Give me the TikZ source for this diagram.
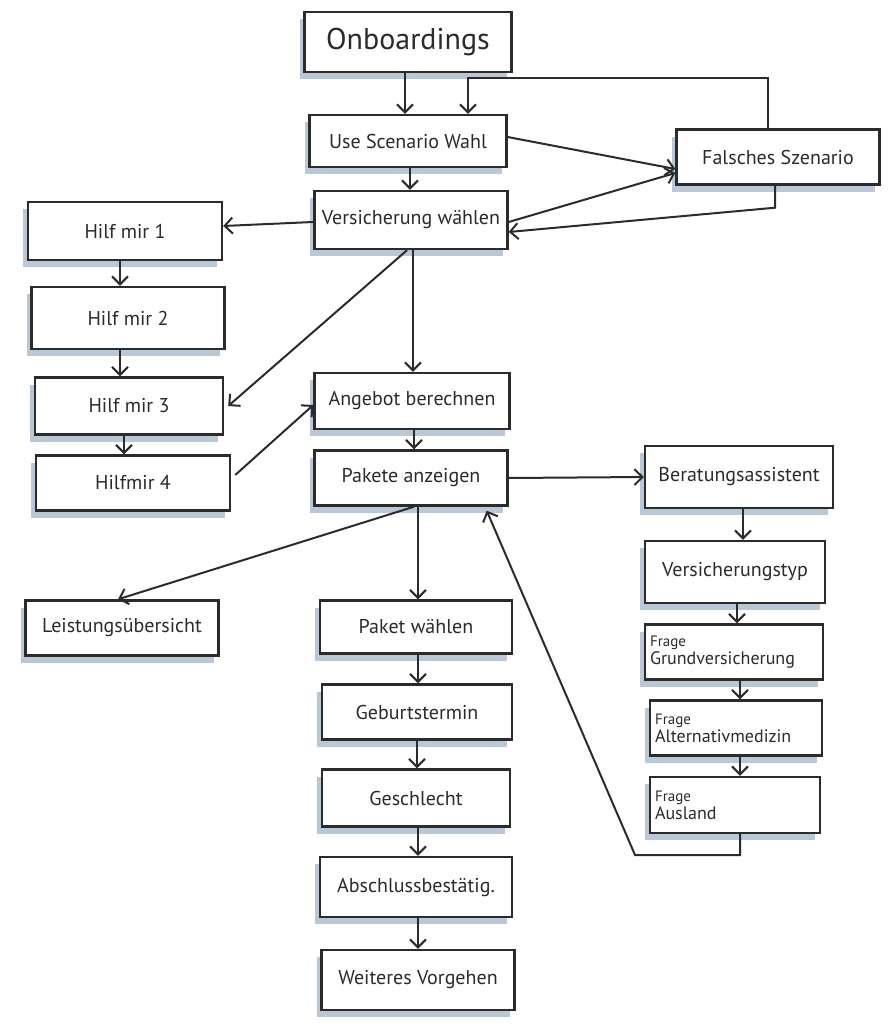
\documentclass[tikz,border=0pt]{standalone}
\usepackage{fontspec}
\setmainfont{PT Sans}
\usetikzlibrary{arrows.meta,calc,shadows}
\definecolor{ink}{HTML}{2B2B2B}
\definecolor{shade}{HTML}{B9C7D6}
\newcommand{\qlabel}[1]{{\fontsize{15}{15}\selectfont #1}}
\begin{document}
\begin{tikzpicture}[x=1pt,y=-1pt,
  card/.style={draw=ink, line width=2.4pt, fill=white, inner sep=3pt,
    font=\fontsize{20}{22}\selectfont, text=ink,
    drop shadow={shadow xshift=-5pt, shadow yshift=-7pt, fill=shade, opacity=1}},
  twoline/.style={card, align=left, font=\fontsize{18}{18}\selectfont},
  flow/.style={draw=ink, line width=2pt, -{Straight Barb[length=8pt,width=16pt,line width=2pt]}}]
\useasboundingbox (0,0) rectangle (890,1030);

% main column
\node[card, minimum width=207pt, minimum height=60pt, font=\fontsize{30}{32}\selectfont] (onb) at (408,42) {Onboardings};
\node[card, minimum width=197pt, minimum height=52pt] (usw) at (408,141) {Use Scenario Wahl};
\node[card, minimum width=203pt, minimum height=55pt] (fal) at (778,157) {Falsches Szenario};
\node[card, minimum width=193pt, minimum height=58pt] (vw) at (411,220) {Versicherung wählen};

% help chain
\node[card, minimum width=194pt, minimum height=58pt] (h1) at (125,231) {Hilf mir 1};
\node[card, minimum width=193pt, minimum height=62pt] (h2) at (128,318) {Hilf mir 2};
\node[card, minimum width=188pt, minimum height=57pt] (h3) at (129,406) {Hilf mir 3};
\node[card, minimum width=194pt, minimum height=55pt] (h4) at (133,483) {Hilfmir 4};

\node[card, minimum width=195pt, minimum height=56pt] (ang) at (412,401) {Angebot berechnen};
\node[card, minimum width=193pt, minimum height=55pt] (pak) at (411,478) {Pakete anzeigen};

% advisor chain
\node[card, minimum width=188pt, minimum height=62pt] (ber) at (739,477) {Beratungsassistent};
\node[card, minimum width=180pt, minimum height=62pt] (vtyp) at (735,572) {Versicherungstyp};
\node[twoline, minimum width=178pt, minimum height=55pt, text width=168pt] (fgr) at (734,652) {\qlabel{Frage}\\Grundversicherung};
\node[twoline, minimum width=172pt, minimum height=55pt, text width=162pt] (falt) at (736,728) {\qlabel{Frage}\\Alternativmedizin};
\node[twoline, minimum width=170pt, minimum height=56pt, text width=160pt] (faus) at (735,805) {\qlabel{Frage}\\Ausland};

% package chain
\node[card, minimum width=193pt, minimum height=55pt] (leist) at (122,628) {Leistungsübersicht};
\node[card, minimum width=192pt, minimum height=53pt] (pw) at (416,627) {Paket wählen};
\node[card, minimum width=190pt, minimum height=55pt] (geb) at (417,712) {Geburtstermin};
\node[card, minimum width=188pt, minimum height=57pt] (ges) at (416,798) {Geschlecht};
\node[card, minimum width=192pt, minimum height=60pt] (abs) at (416,887) {Abschlussbestätig.};
\node[card, minimum width=193pt, minimum height=60pt] (wv) at (418,980) {Weiteres Vorgehen};

% connectors
\draw[flow] ($(onb.south)+(-3,0)$) -- ($(onb.south |- usw.north)+(-3,0)$);
\draw[flow] ($(usw.south)+(2,0)$) -- ($(usw.south |- vw.north)+(2,0)$);
\draw[flow] ($(usw.east)+(0,-4)$) -- ($(fal.west)+(0,12)$);
\draw[flow] ($(vw.east)+(0,2)$) -- ($(fal.west)+(0,16)$);
\draw[flow] ($(fal.north)+(-10,0)$) -- ++(0,-50) -| ($(usw.north)+(60,0)$);
\draw[flow] ($(fal.south)+(-3,0)$) -- ++(0,22) -- ($(vw.east)+(0,12)$);
\draw[flow] ($(vw.west)+(0,2)$) -- ($(h1.east)+(0,-5)$);
\draw[flow] ($(h1.south)+(-5,0)$) -- ($(h1.south |- h2.north)+(-5,0)$);
\draw[flow] ($(h2.south)+(-8,0)$) -- ($(h2.south |- h3.north)+(-8,0)$);
\draw[flow] ($(h3.south)+(-5,0)$) -- ($(h3.south |- h4.north)+(-5,0)$);
\draw[flow] ($(vw.south)+(-4,0)$) -- ($(h3.east)+(4,0)$);
\draw[flow] ($(vw.south)+(2,0)$) -- ($(vw.south |- ang.north)+(2,0)$);
\draw[flow] ($(h4.east)+(4,-8)$) -- ($(ang.west)+(0,4)$);
\draw[flow] ($(ang.south)+(2,0)$) -- ($(ang.south |- pak.north)+(2,0)$);
\draw[flow] (pak.east) -- (ber.west);
\draw[flow] ($(ber.south)+(4,0)$) -- ($(ber.south |- vtyp.north)+(4,0)$);
\draw[flow] ($(vtyp.south)+(2,0)$) -- ($(vtyp.south |- fgr.north)+(2,0)$);
\draw[flow] ($(fgr.south)+(6,0)$) -- ($(fgr.south |- falt.north)+(6,0)$);
\draw[flow] ($(falt.south)+(4,0)$) -- ($(falt.south |- faus.north)+(4,0)$);
\coordinate (back) at (635,855);
\draw[flow] ($(faus.south)+(5,0)$) |- (back) -- ($(pak.south east)+(-22,4)$);
\draw[flow] ($(pak.south)+(3,0)$) -- ($(leist.north)+(-4,0)$);
\draw[flow] ($(pak.south)+(7,0)$) -- ($(pak.south |- pw.north)+(7,0)$);
\draw[flow] ($(pw.south)+(2,0)$) -- ($(pw.south |- geb.north)+(2,0)$);
\draw[flow] ($(geb.south)+(0,0)$) -- ($(geb.south |- ges.north)+(0,0)$);
\draw[flow] ($(ges.south)+(2,0)$) -- ($(ges.south |- abs.north)+(2,0)$);
\draw[flow] ($(abs.south)+(2,0)$) -- ($(abs.south |- wv.north)+(2,0)$);
\end{tikzpicture}
\end{document}
